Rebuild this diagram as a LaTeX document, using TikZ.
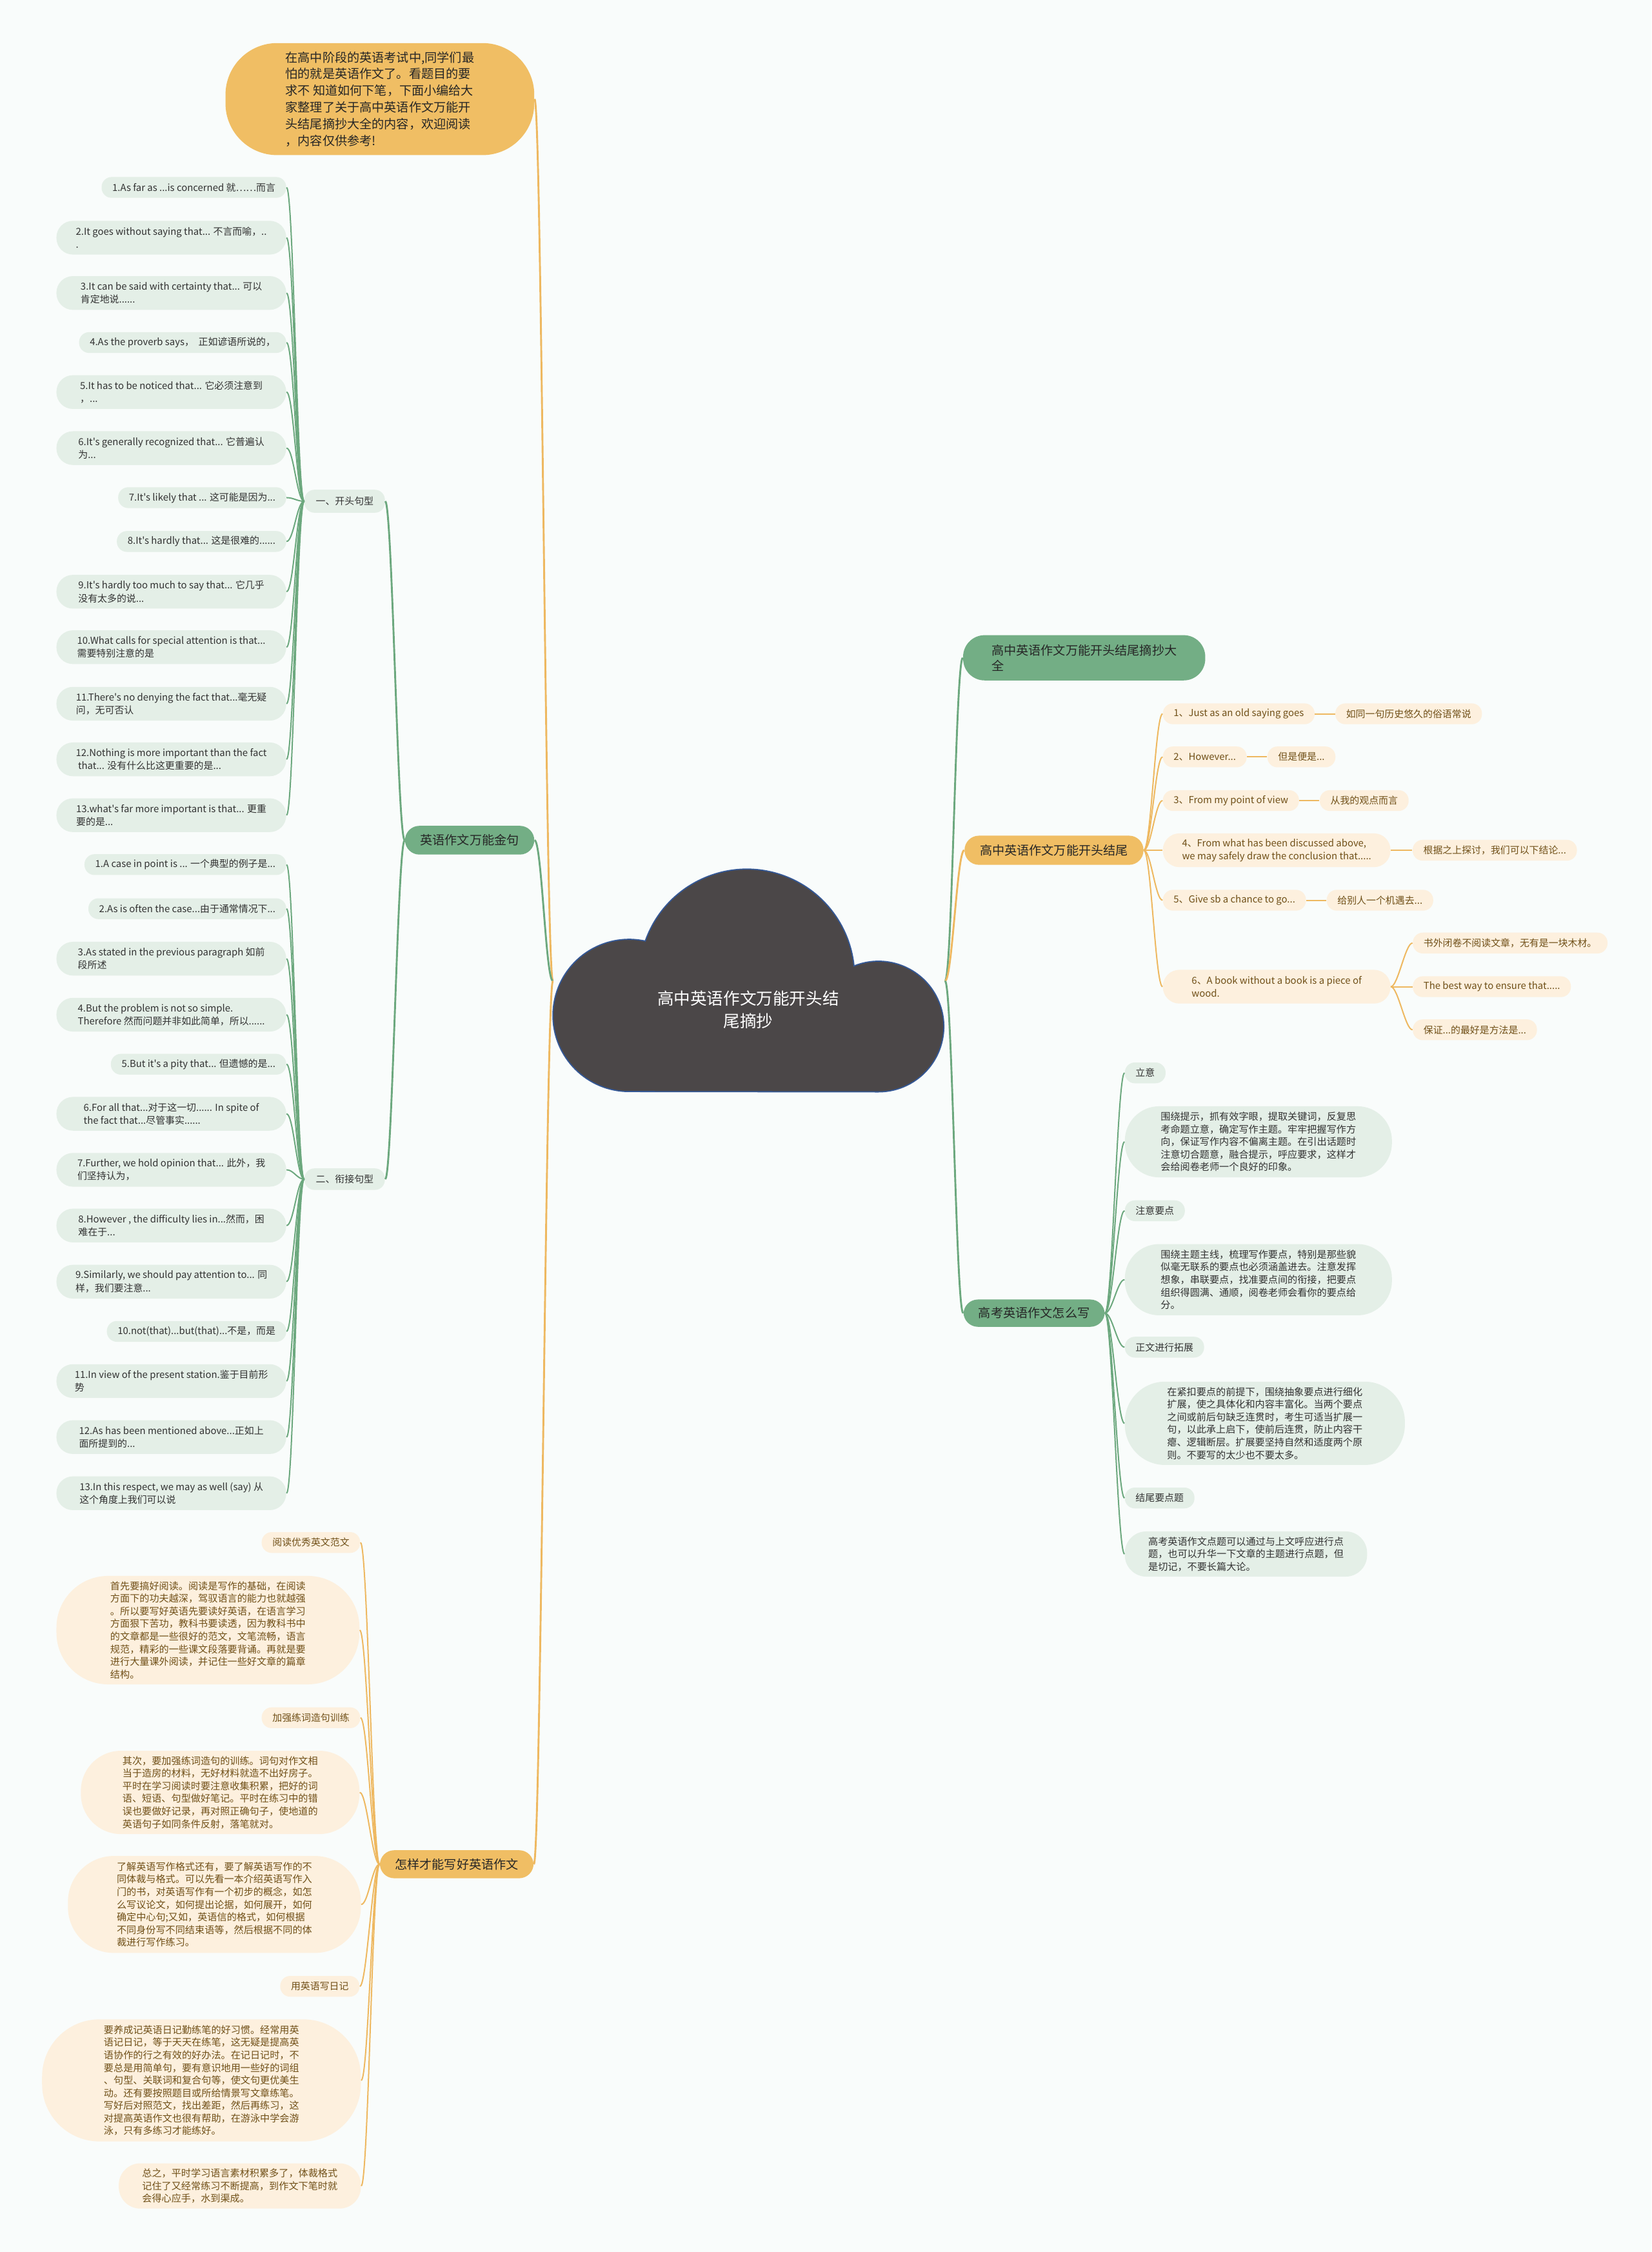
\documentclass[tikz,border=0pt]{standalone}
\usepackage{fontspec}
\setmainfont{Noto Sans CJK SC}[Ligatures=TeXOff]
\usetikzlibrary{calc}

\definecolor{bgcol}{RGB}{249,252,251}
\definecolor{gmain}{RGB}{115,174,133}
\definecolor{gsoft}{RGB}{228,239,231}
\definecolor{gwire}{RGB}{108,168,126}
\definecolor{omain}{RGB}{240,190,100}
\definecolor{osoft}{RGB}{253,240,222}
\definecolor{owire}{RGB}{238,184,96}
\definecolor{otext}{RGB}{112,80,24}
\definecolor{gtext}{RGB}{50,50,50}
\definecolor{cloudfill}{RGB}{75,71,72}
\definecolor{cloudline}{RGB}{52,88,150}

\tikzset{
  topic/.style={rounded corners=10, inner sep=0, minimum height=20, text=black!85,
    font=\fontsize{8.6}{10.8}\selectfont, align=left},
  gtopic/.style={topic, fill=gmain},
  otopic/.style={topic, fill=omain},
  sub/.style={rounded corners=7, inner xsep=7.5, inner ysep=0, minimum height=14.5,
    font=\fontsize{6.7}{9}\selectfont, align=left},
  gsub/.style={sub, fill=gsoft, text=gtext},
  osub/.style={sub, fill=osoft, text=otext},
  two/.style={minimum height=23.5, rounded corners=11.5},
  para/.style={inner sep=0, font=\fontsize{6.8}{8.8}\selectfont, align=left},
  gpara/.style={para, fill=gsoft, text=gtext},
  opara/.style={para, fill=osoft, text=otext},
  gw/.style={draw=gwire, line width=1.3},
  gws/.style={draw=gwire, line width=0.9},
  ow/.style={draw=owire, line width=1.3},
  ows/.style={draw=owire, line width=0.9}
}

% curved wires, to the left and to the right
\newcommand{\lwire}[3]{\draw[#1] (#2) .. controls +(-5,0) and +(5,0) .. (#3);}
\newcommand{\rwire}[3]{\draw[#1] (#2) .. controls +(5,0) and +(-5,0) .. (#3);}

\begin{document}
\begin{tikzpicture}[x=1pt, y=-1pt]
    \fill[bgcol] (0,0) rectangle (1150,1568);
    \useasboundingbox (0,0) rectangle (1150,1568);

    % center cloud
    \filldraw[fill=cloudfill, draw=cloudline, line width=0.8]
        (438,760) arc[start angle=90, end angle=282.3, radius=53]
        arc[start angle=199.4, end angle=354.2, radius=75]
        arc[start angle=248, end angle=450, radius=45.5] -- cycle;
    \node[text=white, font=\fontsize{11.5}{16}\selectfont, align=center] (root) at (521,703) {高中英语作文万能开头结\\尾摘抄};
    \coordinate (rootL) at (385,683);
    \coordinate (rootR) at (658,683);

    % intro
    \node[otopic, minimum width=215, minimum height=78, rounded corners=36,
        font=\fontsize{8.6}{11.6}\selectfont] (intro) at (264.5,69)
        {在高中阶段的英语考试中,同学们最\\怕的就是英语作文了。看题目的要\\求不 知道如何下笔，下面小编给大\\家整理了关于高中英语作文万能开\\头结尾摘抄大全的内容，欢迎阅读\\，内容仅供参考!};

    % left: golden sentences
    \node[gtopic, minimum width=90] (gold) at (327,585) {英语作文万能金句};
    \node[gsub, minimum width=56, minimum height=16] (open) at (240,349) {一、开头句型};
    \node[gsub, minimum width=56, minimum height=15] (link) at (240,821) {二、衔接句型};

    \node[gsub, anchor=east] (o1) at (199.5,130.5) {1.As far as ...is concerned 就……而言};
    \node[gsub, two, minimum width=160, anchor=east] (o2) at (199.5,165.5) {2.It goes without saying that... 不言而喻，..\\.};
    \node[gsub, two, minimum width=160, anchor=east] (o3) at (199.5,204) {3.It can be said with certainty that... 可以\\肯定地说......};
    \node[gsub, anchor=east] (o4) at (199.5,238.5) {4.As the proverb says，\ \ 正如谚语所说的，};
    \node[gsub, two, minimum width=160, anchor=east] (o5) at (199.5,273) {5.It has to be noticed that... 它必须注意到\\，...};
    \node[gsub, two, minimum width=160, anchor=east] (o6) at (199.5,312) {6.It's generally recognized that... 它普遍认\\为...};
    \node[gsub, anchor=east] (o7) at (199.5,346.5) {7.It's likely that ... 这可能是因为...};
    \node[gsub, anchor=east] (o8) at (199.5,377) {8.It's hardly that... 这是很难的......};
    \node[gsub, two, minimum width=160, anchor=east] (o9) at (199.5,412) {9.It's hardly too much to say that... 它几乎\\没有太多的说...};
    \node[gsub, two, minimum width=160, anchor=east] (o10) at (199.5,450.6) {10.What calls for special attention is that...\\需要特别注意的是};
    \node[gsub, two, minimum width=160, anchor=east] (o11) at (199.5,490) {11.There's no denying the fact that...毫无疑\\问，无可否认};
    \node[gsub, two, minimum width=160, anchor=east] (o12) at (199.5,528.7) {12.Nothing is more important than the fact\\\ that... 没有什么比这更重要的是...};
    \node[gsub, two, minimum width=160, anchor=east] (o13) at (199.5,567.6) {13.what's far more important is that... 更重\\要的是...};

    \node[gsub, anchor=east] (l1) at (199.5,602) {1.A case in point is ... 一个典型的例子是...};
    \node[gsub, anchor=east] (l2) at (199.5,632.7) {2.As is often the case...由于通常情况下...};
    \node[gsub, two, minimum width=160, anchor=east] (l3) at (199.5,667.5) {3.As stated in the previous paragraph 如前\\段所述};
    \node[gsub, two, minimum width=160, anchor=east] (l4) at (199.5,706.5) {4.But the problem is not so simple.\\Therefore 然而问题并非如此简单，所以......};
    \node[gsub, anchor=east] (l5) at (199.5,741) {5.But it's a pity that... 但遗憾的是...};
    \node[gsub, two, minimum width=160, anchor=east] (l6) at (199.5,775.5) {6.For all that...对于这一切...... In spite of\\the fact that...尽管事实......};
    \node[gsub, two, minimum width=160, anchor=east] (l7) at (199.5,814.5) {7.Further, we hold opinion that... 此外，我\\们坚持认为，};
    \node[gsub, two, minimum width=160, anchor=east] (l8) at (199.5,853.3) {8.However , the difficulty lies in...然而，困\\难在于...};
    \node[gsub, two, minimum width=160, anchor=east] (l9) at (199.5,892.4) {9.Similarly, we should pay attention to... 同\\样，我们要注意...};
    \node[gsub, anchor=east] (l10) at (199.5,927) {10.not(that)...but(that)...不是，而是};
    \node[gsub, two, minimum width=160, anchor=east] (l11) at (199.5,961.6) {11.In view of the present station.鉴于目前形\\势};
    \node[gsub, two, minimum width=160, anchor=east] (l12) at (199.5,1000.6) {12.As has been mentioned above...正如上\\面所提到的...};
    \node[gsub, two, minimum width=160, anchor=east] (l13) at (199.5,1039.7) {13.In this respect, we may as well (say) 从\\这个角度上我们可以说};

    % left: how to write
    \node[otopic, minimum width=107, minimum height=19.5] (howto) at (318,1298) {怎样才能写好英语作文};
    \node[osub, anchor=east] (h1) at (251,1074) {阅读优秀英文范文};
    \node[opara, minimum width=211, minimum height=75.5, rounded corners=36, anchor=east] (h2) at (250.5,1135)
        {首先要搞好阅读。阅读是写作的基础，在阅读\\方面下的功夫越深，驾驭语言的能力也就越强\\。所以要写好英语先要读好英语，在语言学习\\方面狠下苦功，教科书要读透，因为教科书中\\的文章都是一些很好的范文，文笔流畅，语言\\规范，精彩的一些课文段落要背诵。再就是要\\进行大量课外阅读，并记住一些好文章的篇章\\结构。};
    \node[osub, anchor=east] (h3) at (251,1196) {加强练词造句训练};
    \node[opara, minimum width=194, minimum height=58, rounded corners=28, anchor=east] (h4) at (250.5,1248)
        {其次，要加强练词造句的训练。词句对作文相\\当于造房的材料，无好材料就造不出好房子。\\平时在学习阅读时要注意收集积累，把好的词\\语、短语、句型做好笔记。平时在练习中的错\\误也要做好记录，再对照正确句子，使地道的\\英语句子如同条件反射，落笔就对。};
    \node[opara, minimum width=204, minimum height=67.5, rounded corners=32, anchor=east] (h5) at (251.5,1326)
        {了解英语写作格式还有，要了解英语写作的不\\同体裁与格式。可以先看一本介绍英语写作入\\门的书，对英语写作有一个初步的概念，如怎\\么写议论文，如何提出论据，如何展开，如何\\确定中心句;又如，英语信的格式，如何根据\\不同身份写不同结束语等，然后根据不同的体\\裁进行写作练习。};
    \node[osub, anchor=east] (h6) at (250.5,1383) {用英语写日记};
    \node[opara, minimum width=222, minimum height=85, rounded corners=40, anchor=east] (h7) at (251.5,1448.5)
        {要养成记英语日记勤练笔的好习惯。经常用英\\语记日记，等于天天在练笔，这无疑是提高英\\语协作的行之有效的好办法。在记日记时，不\\要总是用简单句，要有意识地用一些好的词组\\、句型、关联词和复合句等，使文句更优美生\\动。还有要按照题目或所给情景写文章练笔。\\写好后对照范文，找出差距，然后再练习，这\\对提高英语作文也很有帮助，在游泳中学会游\\泳，只有多练习才能练好。};
    \node[opara, minimum width=168.6, minimum height=31.5, rounded corners=15, anchor=east] (h8) at (251.5,1522)
        {总之，平时学习语言素材积累多了，体裁格式\\记住了又经常练习不断提高，到作文下笔时就\\会得心应手，水到渠成。};

    % right side
    \node[gtopic, minimum width=168.6, minimum height=31.5, rounded corners=15, anchor=west] (digest) at (670.4,458)
        {高中英语作文万能开头结尾摘抄大\\全};
    \node[otopic, minimum width=124.6, minimum height=20.3, anchor=west] (ends) at (671.4,592) {高中英语作文万能开头结尾};

    \node[osub, anchor=west] (r1) at (809.5,497) {1、Just as an old saying goes};
    \node[osub, anchor=west] (b1) at ($(r1.east)+(14,0)$) {如同一句历史悠久的俗语常说};
    \node[osub, anchor=west] (r2) at (809.5,527) {2、However...};
    \node[osub, anchor=west] (b2) at ($(r2.east)+(14,0)$) {但是便是...};
    \node[osub, anchor=west] (r3) at (809.5,557.4) {3、From my point of view};
    \node[osub, anchor=west] (b3) at ($(r3.east)+(14,0)$) {从我的观点而言};
    \node[osub, two, minimum width=158.5, anchor=west] (r4) at (809.5,592) {4、From what has been discussed above,\\we may safely draw the conclusion that.....};
    \node[osub, anchor=west] (b4) at ($(r4.east)+(15,0)$) {根据之上探讨，我们可以下结论...};
    \node[osub, anchor=west] (r5) at (809.5,626.8) {5、Give sb a chance to go...};
    \node[osub, anchor=west] (b5) at ($(r5.east)+(14,0)$) {给别人一个机遇去...};
    \node[osub, two, minimum width=158.5, anchor=west] (r6) at (809.5,687) {6、A book without a book is a piece of\\wood.};
    \node[osub, anchor=west] (s1) at (983.5,656.6) {书外闭卷不阅读文章，无有是一块木材。};
    \node[osub, anchor=west] (s2) at (983.5,687) {The best way to ensure that.....};
    \node[osub, anchor=west] (s3) at (983.5,717) {保证...的最好是方法是...};

    \node[gtopic, minimum width=98.3, minimum height=19, anchor=west] (gaokao) at (670.7,914.3) {高考英语作文怎么写};
    \node[gsub, anchor=west] (k1) at (783,747) {立意};
    \node[gpara, minimum width=186, minimum height=49.5, rounded corners=24, anchor=west] (k2) at (783,795)
        {围绕提示，抓有效字眼，提取关键词，反复思\\考命题立意，确定写作主题。牢牢把握写作方\\向，保证写作内容不偏离主题。在引出话题时\\注意切合题意，融合提示，呼应要求，这样才\\会给阅卷老师一个良好的印象。};
    \node[gsub, anchor=west] (k3) at (783,843) {注意要点};
    \node[gpara, minimum width=186, minimum height=49.6, rounded corners=24, anchor=west] (k4) at (783,891)
        {围绕主题主线，梳理写作要点，特别是那些貌\\似毫无联系的要点也必须涵盖进去。注意发挥\\想象，串联要点，找准要点间的衔接，把要点\\组织得圆满、通顺，阅卷老师会看你的要点给\\分。};
    \node[gsub, anchor=west] (k5) at (783,938) {正文进行拓展};
    \node[gpara, minimum width=195, minimum height=58, rounded corners=28, anchor=west] (k6) at (783,991)
        {在紧扣要点的前提下，围绕抽象要点进行细化\\扩展，使之具体化和内容丰富化。当两个要点\\之间或前后句缺乏连贯时，考生可适当扩展一\\句，以此承上启下，使前后连贯，防止内容干\\瘪、逻辑断层。扩展要坚持自然和适度两个原\\则。不要写的太少也不要太多。};
    \node[gsub, anchor=west] (k7) at (783,1043) {结尾要点题};
    \node[gpara, minimum width=168.7, minimum height=31.5, rounded corners=15, anchor=west] (k8) at (783,1082)
        {高考英语作文点题可以通过与上文呼应进行点\\题，也可以升华一下文章的主题进行点题，但\\是切记，不要长篇大论。};

    % wires
    \lwire{ow}{rootL}{intro.east}
    \lwire{gw}{rootL}{gold.east}
    \lwire{ow}{rootL}{howto.east}
    \lwire{gw}{gold.west}{open.east}
    \lwire{gw}{gold.west}{link.east}
    \foreach \i in {1,...,13} {\lwire{gws}{open.west}{o\i.east}}
    \foreach \i in {1,...,13} {\lwire{gws}{link.west}{l\i.east}}
    \foreach \i in {1,...,8} {\lwire{ows}{howto.west}{h\i.east}}

    \rwire{gw}{rootR}{digest.west}
    \rwire{ow}{rootR}{ends.west}
    \rwire{gw}{rootR}{gaokao.west}
    \foreach \i in {1,...,6} {\rwire{ows}{ends.east}{r\i.west}}
    \foreach \i in {1,...,5} {\draw[ows] (r\i.east) -- (b\i.west);}
    \foreach \i in {1,...,3} {\rwire{ows}{r6.east}{s\i.west}}
    \foreach \i in {1,...,8} {\rwire{gws}{gaokao.east}{k\i.west}}
\end{tikzpicture}
\end{document}
